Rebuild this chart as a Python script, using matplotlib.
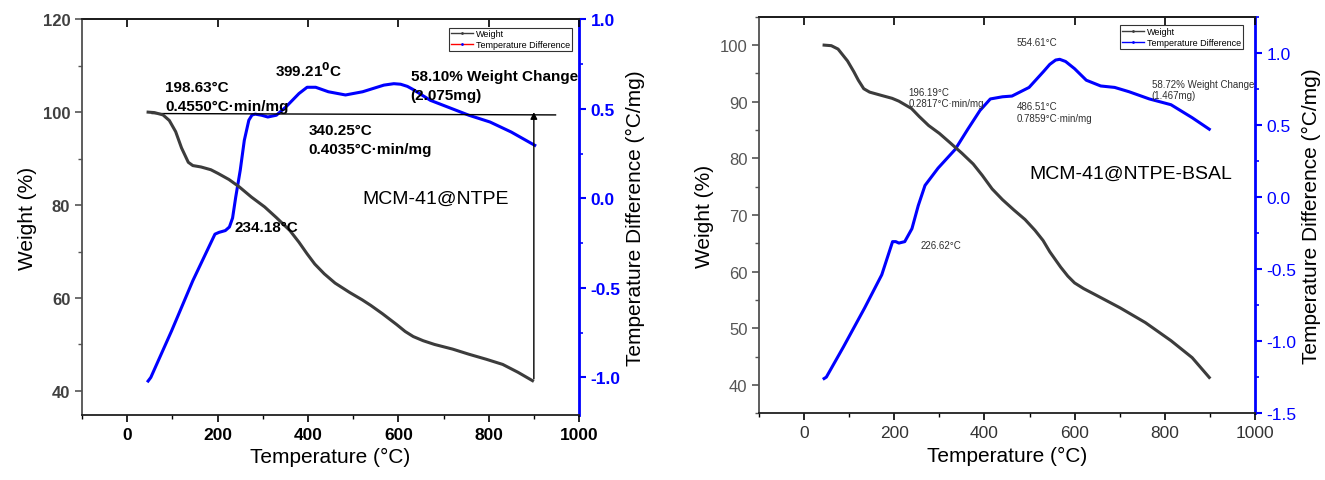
import matplotlib
matplotlib.use('Agg')
import matplotlib.pyplot as plt
from matplotlib.lines import Line2D
from matplotlib.ticker import MultipleLocator, NullFormatter

plt.rcParams['font.family'] = ['Liberation Sans', 'DejaVu Sans']
plt.rcParams['axes.unicode_minus'] = False

# ---- MCM-41@NTPE (left) ----
ntpe_temp = [46, 60, 79, 93, 107, 120, 135, 145, 163, 185, 201, 225, 248, 275, 304, 330, 360, 380, 398, 415,
             436, 460, 492, 520, 539, 565, 596, 615, 633, 655, 680, 720, 756, 795, 831, 865, 897]
ntpe_weight = [100, 99.9, 99.4, 98.2, 95.8, 92.3, 89.2, 88.5, 88.2, 87.6, 86.8, 85.5, 83.9, 81.7, 79.6, 77.3,
               74.5, 72.0, 69.5, 67.3, 65.2, 63.2, 61.2, 59.6, 58.4, 56.6, 54.3, 52.8, 51.7, 50.8, 50.0, 49.0,
               47.9, 46.8, 45.7, 44.0, 42.2]
ntpe_dt_temp = [46, 52, 98, 145, 194, 203, 217, 226, 233, 240, 250, 259, 269, 276, 283, 297, 311, 330, 351, 380,
                398, 417, 445, 483, 521, 568, 590, 605, 620, 633, 671, 709, 756, 803, 850, 902]
ntpe_dt = [-1.02, -1.0, -0.74, -0.46, -0.20, -0.19, -0.18, -0.16, -0.11, 0.007, 0.157, 0.324, 0.436, 0.465,
           0.47, 0.464, 0.454, 0.464, 0.51, 0.585, 0.62, 0.62, 0.595, 0.577, 0.595, 0.632, 0.64, 0.637, 0.625,
           0.607, 0.547, 0.51, 0.464, 0.426, 0.37, 0.296]

# ---- MCM-41@NTPE-BSAL (right) ----
bsal_temp = [44, 60, 75, 96, 110, 120, 132, 145, 172, 195, 210, 238, 255, 276, 300, 323, 350, 375, 395, 417,
             440, 465, 490, 512, 530, 545, 569, 585, 600, 620, 644, 701, 757, 814, 861, 899]
bsal_weight = [100, 99.9, 99.3, 97.2, 95.3, 93.8, 92.3, 91.7, 91.1, 90.6, 90.1, 88.8, 87.4, 85.8, 84.4, 82.8,
               80.9, 79.0, 77.0, 74.6, 72.7, 70.9, 69.2, 67.3, 65.5, 63.5, 60.8, 59.2, 58.0, 57.0, 56.0, 53.6,
               51.0, 47.8, 44.8, 41.3]
bsal_dt_temp = [44, 49, 87, 134, 172, 196, 203, 210, 223, 239, 253, 268, 297, 335, 363, 390, 413, 440, 461, 499,
                531, 545, 558, 567, 580, 600, 626, 658, 689, 721, 766, 814, 861, 899]
bsal_dt = [-1.26, -1.25, -1.04, -0.77, -0.54, -0.31, -0.31, -0.32, -0.31, -0.22, -0.06, 0.08, 0.20, 0.33, 0.47,
           0.60, 0.68, 0.695, 0.70, 0.76, 0.87, 0.92, 0.95, 0.955, 0.94, 0.89, 0.81, 0.77, 0.76, 0.73, 0.68,
           0.64, 0.55, 0.47]

GRAY = '#3c3c3c'
BLUE = '#0000ff'

fig = plt.figure(figsize=(13.25, 4.81), dpi=100)


def style_axes(ax, ax2, bold):
    w = 'bold' if bold else 'normal'
    ycol = '#404040' if bold else '#555555'
    xcol = 'black' if bold else '#333333'
    ax.set_xlim(-100, 1000)
    ax.xaxis.set_major_locator(MultipleLocator(200))
    ax.xaxis.set_minor_locator(MultipleLocator(100))
    ax.tick_params(axis='x', which='both', direction='out', labelsize=12.5, labelcolor=xcol)
    ax.tick_params(axis='x', which='major', length=5, width=1.2)
    ax.tick_params(axis='x', which='minor', length=3, width=1.0)
    ax.tick_params(axis='y', which='major', length=5, width=1.2, labelsize=12, labelcolor=ycol, color='#555555')
    ax.tick_params(axis='y', which='minor', length=3, width=1.0, color='#555555')
    for lab in ax.get_xticklabels() + ax.get_yticklabels():
        lab.set_fontweight(w)
    # top axis: inward ticks, no labels
    top = ax.secondary_xaxis('top')
    top.xaxis.set_major_locator(MultipleLocator(200))
    top.xaxis.set_minor_locator(MultipleLocator(100))
    top.xaxis.set_major_formatter(NullFormatter())
    top.tick_params(which='both', direction='in')
    top.tick_params(which='major', length=6, width=1.2)
    top.tick_params(which='minor', length=0)
    top.spines['top'].set_linewidth(1.3)
    for s in ['bottom', 'top']:
        ax.spines[s].set_linewidth(1.3)
        ax.spines[s].set_color('#202020')
    ax.spines['left'].set_linewidth(1.3)
    ax.spines['left'].set_color('#505050')
    ax.spines['right'].set_visible(False)
    ax2.spines['right'].set_color(BLUE)
    ax2.spines['right'].set_linewidth(2)
    for s in ['left', 'bottom', 'top']:
        ax2.spines[s].set_visible(False)
    ax2.yaxis.set_major_locator(MultipleLocator(0.5))
    ax2.yaxis.set_minor_locator(MultipleLocator(0.25))
    ax2.tick_params(axis='y', which='both', colors=BLUE, labelsize=12.5)
    ax2.tick_params(axis='y', which='major', length=5, width=1.5)
    ax2.tick_params(axis='y', which='minor', length=3, width=1.2)
    for lab in ax2.get_yticklabels():
        lab.set_fontweight(w)
    ax.set_xlabel('Temperature (°C)', fontsize=15)
    ax.set_ylabel('Weight (%)', fontsize=15)
    ax2.set_ylabel('Temperature Difference (°C/mg)', fontsize=15)


# left panel
ax = fig.add_axes([0.062, 0.135, 0.375, 0.823])
ax2 = ax.twinx()
ax.plot(ntpe_temp, ntpe_weight, color=GRAY, lw=2.2, zorder=3)
ax2.plot(ntpe_dt_temp, ntpe_dt, color=BLUE, lw=2.2)
ax.set_ylim(34.8, 120)
ax.yaxis.set_major_locator(MultipleLocator(20))
ax.yaxis.set_minor_locator(MultipleLocator(10))
ax2.set_ylim(-1.21, 1.0)
ax.plot([55, 948], [99.7, 99.4], color='black', lw=1.0)
ax.annotate('', xy=(900, 100.6), xytext=(900, 42.0),
            arrowprops=dict(arrowstyle='-|>', color='black', lw=1.0, mutation_scale=10))
ax.set_zorder(ax2.get_zorder() + 1)
ax.patch.set_visible(False)
style_axes(ax, ax2, True)
fb = dict(fontsize=11, fontweight='bold', va='center', ha='left')
ax.text(84, 105.5, '198.63°C', **fb)
ax.text(84, 101.3, '0.4550°C·min/mg', **fb)
ax.text(328, 109.2, '399.21$^{\\mathbf{0}}$C', **fb)
ax.text(627, 107.8, '58.10% Weight Change', **fb)
ax.text(627, 103.7, '(2.075mg)', **fb)
ax.text(401, 96.1, '340.25°C', **fb)
ax.text(401, 92.0, '0.4035°C·min/mg', **fb)
ax.text(237, 75.3, '234.18°C', **fb)
ax.text(521, 81.4, 'MCM-41@NTPE', fontsize=14, va='center', ha='left')
h1 = [Line2D([], [], color=GRAY, lw=1, marker='.', markersize=2),
      Line2D([], [], color='red', lw=1, marker='.', markersize=2, markerfacecolor=BLUE, markeredgecolor=BLUE)]
leg = ax.legend(h1, ['Weight', 'Temperature Difference'], loc='upper right', fontsize=6.5,
                frameon=True, fancybox=False, edgecolor='black', handlelength=2.5,
                borderpad=0.2, labelspacing=0.2, handletextpad=0.3, bbox_to_anchor=(0.995, 0.99))
leg.get_frame().set_linewidth(0.8)

# right panel
bx = fig.add_axes([0.573, 0.139, 0.374, 0.824])
bx2 = bx.twinx()
bx.plot(bsal_temp, bsal_weight, color=GRAY, lw=2.2, zorder=3)
bx2.plot(bsal_dt_temp, bsal_dt, color=BLUE, lw=2.2)
bx.set_ylim(35, 105)
bx.yaxis.set_major_locator(MultipleLocator(10))
bx.yaxis.set_minor_locator(MultipleLocator(5))
bx2.set_ylim(-1.5, 1.25)
bx.set_zorder(bx2.get_zorder() + 1)
bx.patch.set_visible(False)
style_axes(bx, bx2, False)
fn = dict(fontsize=7, va='center', ha='left', color='#303030')
bx.text(471, 100.5, '554.61°C', **fn)
bx.text(231, 91.8, '196.19°C', **fn)
bx.text(231, 89.7, '0.2817°C·min/mg', **fn)
bx.text(471, 89.2, '486.51°C', **fn)
bx.text(471, 87.1, '0.7859°C·min/mg', **fn)
bx.text(771, 93.2, '58.72% Weight Change', **fn)
bx.text(771, 91.1, '(1.467mg)', **fn)
bx.text(259, 64.7, '226.62°C', **fn)
bx.text(500, 77.4, 'MCM-41@NTPE-BSAL', fontsize=14, va='center', ha='left')
h2 = [Line2D([], [], color=GRAY, lw=1, marker='.', markersize=2),
      Line2D([], [], color=BLUE, lw=1, marker='.', markersize=2)]
leg2 = bx.legend(h2, ['Weight', 'Temperature Difference'], loc='upper right', fontsize=6.5,
                 frameon=True, fancybox=False, edgecolor='black', handlelength=2.5,
                 borderpad=0.2, labelspacing=0.2, handletextpad=0.3, bbox_to_anchor=(0.985, 0.99))
leg2.get_frame().set_linewidth(0.8)

fig.savefig('out.png', dpi=100)
